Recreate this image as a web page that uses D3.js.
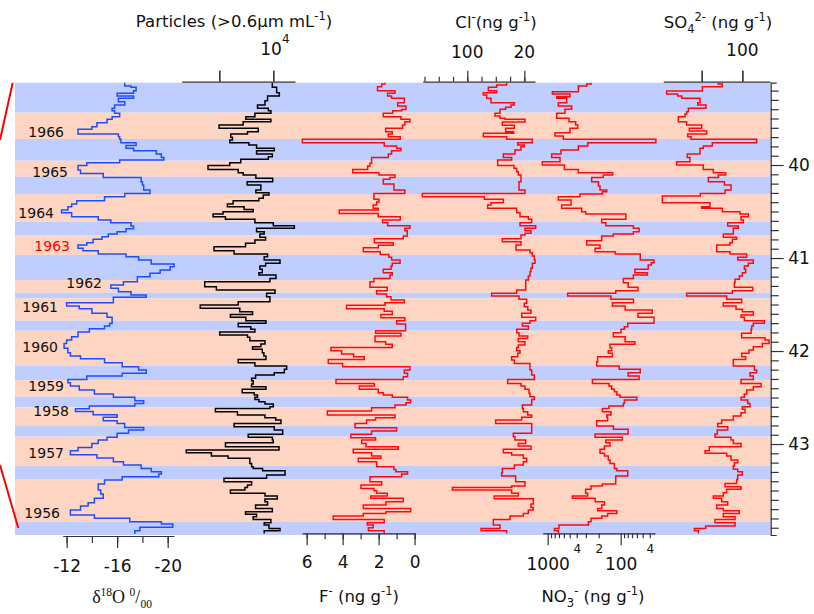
<!DOCTYPE html>
<html>
<head>
<meta charset="utf-8">
<script src="https://cdn.jsdelivr.net/npm/d3@7"></script>
<style>
  body { margin: 0; background: #fff; }
  svg { display: block; }
</style>
</head>
<body>
<script>
// ---- data (depth in m, values in native units) ----
const bandDepth = [39.115, 39.437, 39.720, 39.954, 40.126, 40.312, 40.610, 40.753, 40.968, 41.237, 41.373, 41.434,
  41.675, 41.782, 42.161, 42.312, 42.491, 42.605, 42.806, 42.921, 43.233, 43.376, 43.835, 43.978];
const bandSeason = ["winter", "summer", "winter", "summer", "winter", "summer", "winter", "summer", "winter", "summer", "winter", "summer",
  "winter", "summer", "winter", "summer", "winter", "summer", "winter", "summer", "winter", "summer", "winter"];

const years = [1966, 1965, 1964, 1963, 1962, 1961, 1960, 1959, 1958, 1957, 1956];
const yearDepth = [39.645, 40.075, 40.516, 40.871, 41.269, 41.527, 41.957, 42.376, 42.645, 43.097, 43.742];

const d18oDepth = [39.115,39.151,39.165,39.201,39.229,39.258,39.283,39.319,39.355,39.391,39.416,39.444,39.480,39.509,39.545,39.588,39.616,39.667,39.695,39.724,
  39.760,39.789,39.821,39.846,39.882,39.918,39.946,39.975,40.004,40.054,40.090,40.133,40.179,40.215,40.269,40.305,40.340,40.383,40.419,40.448,
  40.484,40.513,40.556,40.591,40.620,40.656,40.685,40.717,40.742,40.771,40.799,40.835,40.860,40.896,40.921,40.957,40.986,41.022,41.065,41.093,
  41.129,41.165,41.201,41.254,41.290,41.326,41.362,41.398,41.423,41.480,41.516,41.545,41.595,41.638,41.703,41.731,41.760,41.796,41.846,41.882,
  41.918,41.971,42.018,42.054,42.083,42.126,42.168,42.204,42.240,42.269,42.305,42.341,42.376,42.419,42.462,42.498,42.534,42.563,42.591,42.620,
  42.649,42.684,42.713,42.749,42.778,42.821,42.849,42.885,42.928,42.957,42.993,43.036,43.072,43.115,43.150,43.190,43.226,43.262,43.298,43.323,
  43.351,43.387,43.430,43.495,43.538,43.584,43.631,43.667,43.710,43.764,43.799,43.835,43.860,43.896,43.932,43.968];
const d18o = [-16.6,-17.1,-17.5,-17.3,-16.0,-17.3,-16.1,-16.6,-15.8,-15.6,-15.8,-16.2,-15.6,-15.2,-14.4,-14.0,-12.9,-16.1,-16.2,-16.3,
  -17.5,-16.7,-17.3,-19.1,-19.5,-19.7,-16.2,-13.6,-12.9,-13.1,-14.9,-17.9,-18.0,-18.1,-18.6,-16.6,-15.0,-12.8,-12.4,-12.1,
  -11.6,-12.4,-14.5,-15.5,-17.1,-17.3,-16.7,-16.0,-15.3,-14.8,-14.1,-13.6,-12.9,-13.3,-14.5,-16.7,-17.7,-18.7,-20.5,-20.2,
  -19.4,-18.6,-17.6,-16.5,-15.5,-16.1,-17.1,-18.3,-15.7,-12.0,-13.0,-14.0,-15.2,-15.6,-15.4,-15.0,-13.8,-12.9,-12.4,-12.0,
  -11.8,-12.1,-12.3,-13.1,-15.0,-16.4,-17.7,-18.3,-16.4,-13.6,-12.1,-12.3,-13.0,-14.2,-15.7,-17.4,-18.1,-17.4,-13.8,-12.7,
  -14.1,-16.0,-14.9,-16.0,-16.6,-18.1,-16.9,-16.0,-15.2,-14.5,-14.0,-12.9,-12.3,-14.4,-15.7,-16.5,-17.9,-18.7,-19.5,-19.3,
  -16.4,-15.0,-14.5,-14.7,-14.9,-14.2,-13.7,-13.1,-12.3,-14.2,-17.0,-19.5,-20.4,-17.8,-17.4];

const partDepth = [39.115,39.165,39.222,39.258,39.308,39.355,39.391,39.416,39.444,39.480,39.509,39.534,39.570,39.606,39.642,39.667,39.702,39.731,39.760,39.785,
  39.821,39.846,39.882,39.910,39.939,39.975,40.004,40.047,40.082,40.108,40.143,40.179,40.215,40.269,40.297,40.323,40.358,40.384,40.419,40.448,
  40.477,40.502,40.527,40.556,40.584,40.620,40.652,40.681,40.717,40.742,40.778,40.806,40.842,40.878,40.921,40.957,40.986,41.022,41.057,41.086,
  41.122,41.158,41.183,41.219,41.254,41.308,41.344,41.380,41.416,41.470,41.505,41.541,41.577,41.606,41.638,41.674,41.702,41.738,41.767,41.796,
  41.828,41.853,41.889,41.925,41.953,41.982,42.018,42.054,42.090,42.125,42.161,42.197,42.233,42.258,42.294,42.319,42.355,42.384,42.412,42.448,
  42.473,42.498,42.520,42.545,42.570,42.599,42.617,42.652,42.688,42.717,42.742,42.778,42.814,42.849,42.896,42.928,42.957,42.986,43.029,43.065,
  43.093,43.129,43.154,43.208,43.244,43.262,43.287,43.333,43.369,43.405,43.441,43.466,43.495,43.530,43.559,43.591,43.620,43.656,43.692,43.728,
  43.756,43.781,43.810,43.846,43.871,43.907,43.932,43.961];
const particles = [9910,10310,10560,9470,9230,8540,9540,9780,8300,7460,9780,7210,4980,8610,7610,6060,6220,5970,7740,8450,
  10090,8450,9910,9540,6990,5970,3960,6750,7210,8390,9940,7580,8850,8390,9600,9070,8670,6280,5750,7300,
  8140,5350,4420,5570,8300,10000,11950,8450,9160,8760,9290,8300,7430,4510,6370,9470,9160,10620,9290,8760,
  8980,8670,10250,9690,3650,4730,10160,9380,9690,6750,3240,6900,8080,6030,7460,9320,6750,7920,8300,5040,
  7610,7830,9230,8850,8080,8980,9130,9320,6750,8300,11240,11020,10090,8360,7990,8140,7990,9320,7120,8230,
  8540,8300,8670,9230,10000,9690,4640,6680,9230,10220,10710,6370,10090,10870,7680,9910,10000,5570,10530,1940,
  4270,5820,7830,7990,8140,9010,11090,9380,5440,7990,7610,7370,6030,9230,10370,9230,9470,8360,9910,7430,
  8450,8140,9780,9160,9600,10620,9160];

const fDepth = [39.115,39.129,39.158,39.201,39.229,39.258,39.283,39.330,39.366,39.402,39.416,39.444,39.480,39.509,39.534,39.570,39.606,39.642,39.667,39.695,
  39.724,39.760,39.796,39.821,39.846,39.882,39.918,39.982,40.011,40.047,40.082,40.108,40.133,40.154,40.204,40.269,40.305,40.369,40.398,40.430,
  40.466,40.484,40.520,40.556,40.591,40.620,40.652,40.681,40.706,40.763,40.792,40.835,40.864,40.889,40.932,40.961,40.993,41.022,41.057,41.086,
  41.122,41.158,41.183,41.219,41.254,41.315,41.351,41.387,41.416,41.452,41.480,41.509,41.545,41.573,41.606,41.642,41.674,41.710,41.781,41.810,
  41.839,41.900,41.928,41.961,41.996,42.032,42.061,42.090,42.133,42.168,42.204,42.240,42.276,42.305,42.348,42.376,42.412,42.448,42.473,42.498,
  42.527,42.556,42.581,42.609,42.645,42.688,42.717,42.742,42.778,42.824,42.860,42.896,42.932,42.957,42.993,43.029,43.057,43.093,43.129,43.154,
  43.190,43.244,43.273,43.298,43.323,43.351,43.405,43.441,43.477,43.502,43.530,43.559,43.584,43.620,43.656,43.692,43.728,43.746,43.774,43.810,
  43.846,43.871,43.900,43.932,43.961];
const fluoride = [1.65,1.83,2.06,1.09,1.50,1.28,0.57,0.94,0.48,0.72,1.22,1.74,0.76,0.26,0.54,0.67,1.61,1.24,1.46,0.80,
  6.24,1.69,1.00,0.76,1.28,1.46,2.39,2.48,2.61,3.44,1.98,1.09,1.37,1.74,1.15,0.54,2.26,1.98,2.11,2.30,
  2.02,4.19,2.02,0.80,1.78,1.50,0.26,0.54,0.41,0.63,2.24,1.19,2.02,2.85,1.91,1.43,1.28,0.81,1.24,1.31,
  1.74,1.24,1.37,2.26,2.48,1.52,2.11,1.56,1.31,0.57,1.65,3.78,1.69,1.24,1.87,0.54,1.00,0.50,2.17,0.76,
  2.20,1.61,1.24,4.65,4.06,3.39,2.80,4.80,4.00,0.26,0.57,0.39,0.63,4.37,2.24,3.07,2.02,1.74,1.24,0.39,
  0.22,0.48,1.09,2.39,4.85,1.09,2.17,2.67,3.31,1.00,2.39,3.54,2.17,2.94,2.70,0.91,3.41,2.39,1.87,3.13,
  2.11,1.15,1.04,0.39,0.72,2.48,1.83,2.98,2.26,2.11,1.52,2.44,0.63,1.59,2.85,0.22,1.59,2.85,4.52,1.69,
  2.63,2.30,2.57,1.69];

const clDepth = [39.115,39.140,39.165,39.201,39.222,39.247,39.283,39.330,39.355,39.380,39.401,39.444,39.473,39.498,39.509,39.538,39.573,39.606,39.642,39.659,
  39.695,39.724,39.760,39.785,39.803,39.839,39.882,39.918,39.946,40.004,40.036,40.072,40.108,40.179,40.269,40.305,40.340,40.369,40.405,40.430,
  40.466,40.513,40.556,40.584,40.620,40.652,40.681,40.706,40.735,40.753,40.792,40.824,40.860,40.914,40.943,40.978,41.022,41.057,41.111,41.147,
  41.194,41.237,41.344,41.380,41.409,41.444,41.487,41.523,41.559,41.595,41.638,41.674,41.702,41.731,41.767,41.803,41.839,41.864,41.900,41.935,
  41.961,41.996,42.025,42.061,42.097,42.133,42.204,42.258,42.305,42.348,42.376,42.412,42.455,42.491,42.520,42.581,42.617,42.652,42.688,42.713,
  42.742,42.778,42.885,42.921,42.957,42.993,43.022,43.057,43.093,43.118,43.154,43.190,43.226,43.262,43.308,43.344,43.405,43.452,43.466,43.495,
  43.530,43.559,43.588,43.645,43.681,43.710,43.746,43.774,43.810,43.871,43.907,43.932,43.961];
const chloride = [44.8,58.8,70.5,58.8,77.5,72.8,66.7,34.0,38.7,46.2,54.1,61.1,54.1,47.1,19.1,50.8,34.0,46.2,35.0,77.5,
  44.8,8.8,29.3,20.0,24.7,33.1,49.4,37.8,57.4,34.5,30.7,28.4,24.7,27.5,19.1,163,76.1,49.4,66.7,71.4,
  30.7,26.1,14.4,9.7,26.1,4.1,19.1,10.7,19.1,24.7,50.8,24.7,31.7,12.1,8.8,6.0,5.0,8.8,10.7,12.1,
  14.4,18.1,30.7,65.8,27.5,16.7,20.0,15.3,10.7,23.7,4.1,12.1,22.8,14.4,30.7,27.5,15.3,28.4,19.1,28.4,
  30.7,26.1,29.3,37.8,34.0,12.1,9.7,6.0,43.4,24.7,19.1,13.5,12.1,6.0,9.7,22.8,21.4,15.3,9.7,23.7,
  60.2,9.7,35.4,33.1,18.1,28.4,10.7,49.4,37.8,21.4,16.7,21.4,34.0,50.8,51.8,32.2,19.1,37.8,120.9,37.8,
  28.4,62.1,7.4,10.7,7.4,14.4,21.4,40.1,63.5,54.1,80.7,44.8];

const no3Depth = [39.115,39.129,39.151,39.211,39.237,39.265,39.283,39.330,39.366,39.401,39.444,39.498,39.534,39.570,39.606,39.652,39.688,39.724,39.760,39.796,
  39.839,39.882,39.918,39.964,40.000,40.047,40.082,40.108,40.133,40.179,40.226,40.269,40.287,40.312,40.340,40.376,40.430,40.466,40.502,40.527,
  40.584,40.620,40.652,40.681,40.717,40.742,40.763,40.814,40.860,40.896,40.932,40.957,41.022,41.050,41.075,41.122,41.158,41.183,41.219,41.265,
  41.315,41.351,41.380,41.409,41.444,41.480,41.516,41.559,41.595,41.638,41.702,41.738,41.767,41.803,41.846,41.900,41.928,41.964,41.996,42.025,
  42.061,42.115,42.161,42.197,42.233,42.269,42.305,42.348,42.376,42.412,42.437,42.473,42.498,42.527,42.563,42.591,42.617,42.652,42.688,42.713,
  42.749,42.806,42.842,42.892,42.928,42.957,42.986,43.022,43.057,43.100,43.129,43.172,43.208,43.262,43.287,43.344,43.430,43.452,43.487,43.530,
  43.559,43.584,43.620,43.656,43.692,43.717,43.746,43.774,43.799,43.835,43.871,43.907,43.932,43.961];
const nitrate = [255,292,380,863,494,753,549,714,469,579,753,510,414,388,494,793,610,33,283,380,
  657,881,678,1183,591,380,129,173,250,202,192,155,178,361,714,479,643,342,302,85,
  182,160,67,56,67,126,182,292,192,224,119,54,35,38,42,64,43,67,92,79,
  58,117,532,136,67,130,87,37,58,35,80,89,99,126,87,64,140,133,148,130,
  207,213,105,54,79,56,244,145,133,122,113,102,60,89,92,145,178,136,155,151,
  213,126,79,224,95,160,140,167,192,167,148,140,122,113,80,117,178,255,302,283,
  459,224,167,182,207,113,151,182,255,277,700,810,714];

const so4Depth = [39.115,39.129,39.158,39.204,39.237,39.258,39.283,39.330,39.355,39.391,39.427,39.452,39.480,39.534,39.570,39.606,39.634,39.667,39.695,39.724,
  39.760,39.796,39.821,39.882,39.918,39.964,40.000,40.047,40.082,40.108,40.133,40.179,40.215,40.269,40.305,40.333,40.405,40.448,40.466,40.502,
  40.527,40.556,40.591,40.620,40.656,40.681,40.742,40.778,40.799,40.835,40.860,40.932,40.957,40.993,41.022,41.057,41.086,41.122,41.158,41.194,
  41.229,41.265,41.315,41.351,41.380,41.409,41.444,41.480,41.516,41.552,41.577,41.613,41.638,41.674,41.702,41.731,41.767,41.810,41.857,41.882,
  41.918,41.953,41.989,42.025,42.061,42.090,42.161,42.204,42.233,42.269,42.305,42.348,42.384,42.419,42.462,42.498,42.527,42.563,42.599,42.627,
  42.663,42.699,42.742,42.778,42.814,42.849,42.892,42.928,42.957,42.993,43.029,43.072,43.100,43.129,43.172,43.201,43.236,43.272,43.297,43.333,
  43.380,43.423,43.459,43.487,43.523,43.559,43.584,43.620,43.656,43.692,43.717,43.746,43.781,43.810,43.846,43.882,43.907,43.932,43.961];
const sulfate = [129.5,124.6,149.2,193.1,179.5,174.6,152.1,154.9,144.7,166.4,168.5,170.5,178.7,168.5,150.0,165.2,143.9,167.2,163.1,82.4,
  136.9,148.0,152.1,167.7,164.4,180.8,148.0,135.7,120.5,129.5,141.8,122.1,113.9,121.3,151.7,198.4,139.8,150.0,124.6,102.9,
  92.6,101.6,98.8,118.0,104.9,111.1,123.4,107.0,112.3,115.2,131.6,115.2,94.7,105.7,86.5,92.6,97.5,95.9,100.0,103.7,
  109.0,109.8,87.3,112.3,168.5,119.3,100.8,123.4,107.8,100.0,86.5,101.6,97.5,72.9,86.5,88.5,89.3,100.8,72.1,67.2,
  75.4,86.5,91.8,100.8,95.9,111.1,85.2,82.4,90.6,86.5,101.6,77.0,86.5,94.7,97.5,101.6,93.4,90.6,100.0,96.7,
  101.6,111.1,125.4,130.3,118.0,130.8,133.6,113.9,111.1,101.6,140.6,145.9,119.3,113.9,105.7,109.8,111.1,105.7,100.0,105.7,
  107.0,121.3,101.6,119.3,123.4,135.7,125.4,118.0,131.6,123.4,103.7,123.4,109.0,133.6,109.0,145.1,159.0,154.1];

// tick values
const depthMajor = [40, 41, 42, 43];
const d18oTicks = [-12, -14, -16, -18, -20];
const d18oLabels = [-12, -16, -20];
const partTicks = [5000, 10000];
const fTicks = [6, 5, 4, 3, 2, 1, 0];
const fLabels = [6, 4, 2, 0];
const clTicks = [160, 140, 120, 100, 80, 60, 40, 20];
const clLabels = [100, 20];
const no3Major = [1000, 100];
const no3Minor = [900, 800, 700, 600, 500, 400, 300, 200, 90, 80, 70, 60, 50, 40];
const no3MinorLabels = {400: "4", 200: "2", 40: "4"};
const so4Ticks = [150, 100];
const so4Labels = [100];

// ---- layout ----
const W = 814, H = 614;
const sans = "'DejaVu Sans', Verdana, sans-serif";
const axisColor = "#333";
const plotL = 15, plotR = 770.7, plotT = 82.7, plotB = 535;
const topAxisY = 81.7, botAxisY = 533.3, d18oAxisY = 536;

const svg = d3.select("body").append("svg")
  .attr("width", W).attr("height", H)
  .attr("xmlns", "http://www.w3.org/2000/svg")
  .style("background-color", "white")
  .style("font-family", sans);

const y = d3.scaleLinear().domain([39.115, 43.978]).range([plotT, plotB]);

const xD18O = d3.scaleLinear().domain([-11.69, -20.5]).range([62.7, 174]);
const xPart = d3.scaleLinear().domain([1520, 12010]).range([181.7, 295]);
const xF = d3.scaleLinear().domain([6.26, 0]).range([302, 414.6]);
const xCl = d3.scaleLinear().domain([162.5, 5.05]).range([422.7, 535]);
const xNO3 = d3.scaleLog().domain([1170, 33.9]).range([542.7, 655]);
const xSO4 = d3.scaleLinear().domain([197.2, 66]).range([663.3, 770]);

// season bands
svg.append("g").selectAll("rect")
  .data(bandSeason)
  .join("rect")
  .attr("x", plotL)
  .attr("width", plotR - plotL)
  .attr("y", (d, i) => y(bandDepth[i]))
  .attr("height", (d, i) => y(bandDepth[i + 1]) - y(bandDepth[i]))
  .attr("fill", d => d === "winter" ? "#bfcefe" : "#fed5c2");

// connector lines to the neighbouring panel
svg.append("line").attr("x1", plotL - 2.3).attr("y1", plotT).attr("x2", 0).attr("y2", 140)
  .attr("stroke", "#f00").attr("stroke-width", 2);
svg.append("line").attr("x1", 0).attr("y1", 465).attr("x2", plotL + 3.3).attr("y2", plotB - 7)
  .attr("stroke", "#f00").attr("stroke-width", 2);

// stepped profiles
function stepPath(depth, vals, xs) {
  const pts = [];
  const n = Math.min(vals.length, depth.length - 1);
  for (let i = 0; i < n; i++) {
    pts.push([vals[i], depth[i]], [vals[i], depth[i + 1]]);
  }
  return d3.line().x(p => xs(p[0])).y(p => y(p[1]))(pts);
}

const traces = [
  {depth: d18oDepth, vals: d18o, x: xD18O, color: "#1c4dff"},
  {depth: partDepth, vals: particles, x: xPart, color: "#000"},
  {depth: fDepth, vals: fluoride, x: xF, color: "#ff0a0a"},
  {depth: clDepth, vals: chloride, x: xCl, color: "#ff0a0a"},
  {depth: no3Depth, vals: nitrate, x: xNO3, color: "#ff0a0a"},
  {depth: so4Depth, vals: sulfate, x: xSO4, color: "#ff0a0a"}
];
traces.forEach(t => {
  svg.append("path")
    .attr("d", stepPath(t.depth, t.vals, t.x))
    .attr("fill", "none")
    .attr("stroke", t.color)
    .attr("stroke-width", 1.5)
    .attr("stroke-linejoin", "miter");
});

// year labels (x placement is layout only)
const yearLabelX = [64, 68, 54, 70, 102, 58, 58, 64, 69, 64, 60];
svg.append("g").selectAll("text")
  .data(years)
  .join("text")
  .attr("x", (d, i) => yearLabelX[i])
  .attr("y", (d, i) => y(yearDepth[i]))
  .attr("dy", "0.36em")
  .attr("text-anchor", "end")
  .attr("font-size", 14)
  .attr("fill", d => d === 1963 ? "#f00" : "#111")
  .text(d => d);

// ---- axes ----
function paint(g) {
  g.select(".domain").attr("stroke", axisColor).attr("stroke-width", 1.2);
  g.selectAll(".tick line").attr("stroke", axisColor).attr("stroke-width", 1.2);
  g.selectAll(".tick text").attr("fill", "#111");
  g.attr("font-family", sans);
  return g;
}

function bottomAxis(scale, yPos, minorTicks, majorTicks, majorLen, minorLen, fmt, pad, fs) {
  svg.append("g").attr("transform", `translate(0,${yPos})`)
    .call(d3.axisBottom(scale).tickValues(minorTicks).tickSize(minorLen).tickSizeOuter(0).tickFormat(""))
    .call(paint);
  svg.append("g").attr("transform", `translate(0,${yPos})`)
    .call(d3.axisBottom(scale).tickValues(majorTicks).tickSize(majorLen).tickSizeOuter(0)
      .tickPadding(pad).tickFormat(fmt))
    .call(paint)
    .attr("font-size", fs)
    .call(g => g.select(".domain").remove());
}

function topAxis(scale, minorTicks, majorTicks, majorLen, minorLen) {
  svg.append("g").attr("transform", `translate(0,${topAxisY})`)
    .call(d3.axisTop(scale).tickValues(minorTicks).tickSize(minorLen).tickSizeOuter(0).tickFormat(""))
    .call(paint);
  svg.append("g").attr("transform", `translate(0,${topAxisY})`)
    .call(d3.axisTop(scale).tickValues(majorTicks).tickSize(majorLen).tickSizeOuter(0).tickFormat(""))
    .call(paint)
    .call(g => g.select(".domain").remove());
}

// d18O
bottomAxis(xD18O, d18oAxisY, d18oTicks, d18oLabels, 12, 7, d => d3.format("d")(d).replace("−", "-"), 12, 17);
// F-
bottomAxis(xF, botAxisY, fTicks, fLabels, 12, 6, d => d, 10.5, 17);
// NO3-
svg.append("g").attr("transform", `translate(0,${botAxisY})`)
  .call(d3.axisBottom(xNO3).tickValues(no3Minor).tickSize(5).tickSizeOuter(0).tickPadding(6)
    .tickFormat(d => no3MinorLabels[d] || ""))
  .call(paint)
  .attr("font-size", 12);
svg.append("g").attr("transform", `translate(0,${botAxisY})`)
  .call(d3.axisBottom(xNO3).tickValues(no3Major).tickSize(12).tickSizeOuter(0).tickPadding(12.5)
    .tickFormat(d => d))
  .call(paint)
  .attr("font-size", 17)
  .call(g => g.select(".domain").remove());

// particles, Cl-, SO4 2-
topAxis(xPart, partTicks, partTicks, 11, 11);
topAxis(xCl, clTicks, clLabels, 11, 5);
topAxis(xSO4, so4Ticks, so4Ticks, 11, 11);

// top tick labels
const partLab = svg.append("text").attr("x", xPart(10000) - 13).attr("y", 55).attr("font-size", 17).attr("fill", "#111");
partLab.append("tspan").text("10");
partLab.append("tspan").attr("dy", -12).attr("font-size", 12).text("4");
svg.append("g").selectAll("text").data(clLabels).join("text")
  .attr("x", d => xCl(d)).attr("y", 58).attr("text-anchor", "middle")
  .attr("font-size", 17).attr("fill", "#111").text(d => d);
svg.append("g").selectAll("text").data(so4Labels).join("text")
  .attr("x", d => xSO4(d)).attr("y", 56).attr("text-anchor", "middle")
  .attr("font-size", 17).attr("fill", "#111").text(d => d);

// depth axis (right)
const depthMinor = d3.range(392, 440).filter(v => v % 10 !== 0).map(v => v / 10);
svg.append("g").attr("transform", `translate(${plotR},0)`)
  .call(d3.axisRight(y).tickValues(depthMinor).tickSize(8).tickSizeOuter(6).tickFormat(""))
  .call(paint);
svg.append("g").attr("transform", `translate(${plotR},0)`)
  .call(d3.axisRight(y).tickValues(depthMajor).tickSize(13).tickSizeOuter(0).tickPadding(4.5).tickFormat(d3.format("d")))
  .call(paint)
  .attr("font-size", 17)
  .call(g => g.select(".domain").remove());

// ---- titles ----
function title(xc, yb, parts, family) {
  const t = svg.append("text").attr("x", xc).attr("y", yb).attr("text-anchor", "middle")
    .attr("font-size", 16.5).attr("fill", "#111");
  if (family) t.attr("font-family", family);
  let shift = 0;
  parts.forEach(p => {
    const s = t.append("tspan").text(p.t);
    const target = p.sup ? -7 : p.sub ? 5 : 0;
    if (target !== shift) { s.attr("dy", target - shift); shift = target; }
    if (p.sup || p.sub) s.attr("font-size", 11.5);
  });
  return t;
}

title(234, 27, [{t: "Particles (>0.6"}, {t: "μ"}, {t: "m mL"}, {t: "-1", sup: true}, {t: ")"}]);
title(496, 28, [{t: "Cl"}, {t: "-", sup: true}, {t: "(ng g"}, {t: "-1", sup: true}, {t: ")"}]);
title(718, 28, [{t: "SO"}, {t: "4", sub: true}, {t: "2-", sup: true}, {t: " (ng g"}, {t: "-1", sup: true}, {t: ")"}]);
title(359, 602, [{t: "F"}, {t: "-", sup: true}, {t: " (ng g"}, {t: "-1", sup: true}, {t: ")"}]);
title(593, 602, [{t: "NO"}, {t: "3", sub: true}, {t: "-", sup: true}, {t: " (ng g"}, {t: "-1", sup: true}, {t: ")"}]);
title(122, 603, [{t: "δ"}, {t: "18", sup: true}, {t: "O "}, {t: "0", sup: true}, {t: "/"}, {t: "00", sub: true}],
  "'Liberation Serif', 'Times New Roman', serif").attr("font-size", 18);
</script>
</body>
</html>
